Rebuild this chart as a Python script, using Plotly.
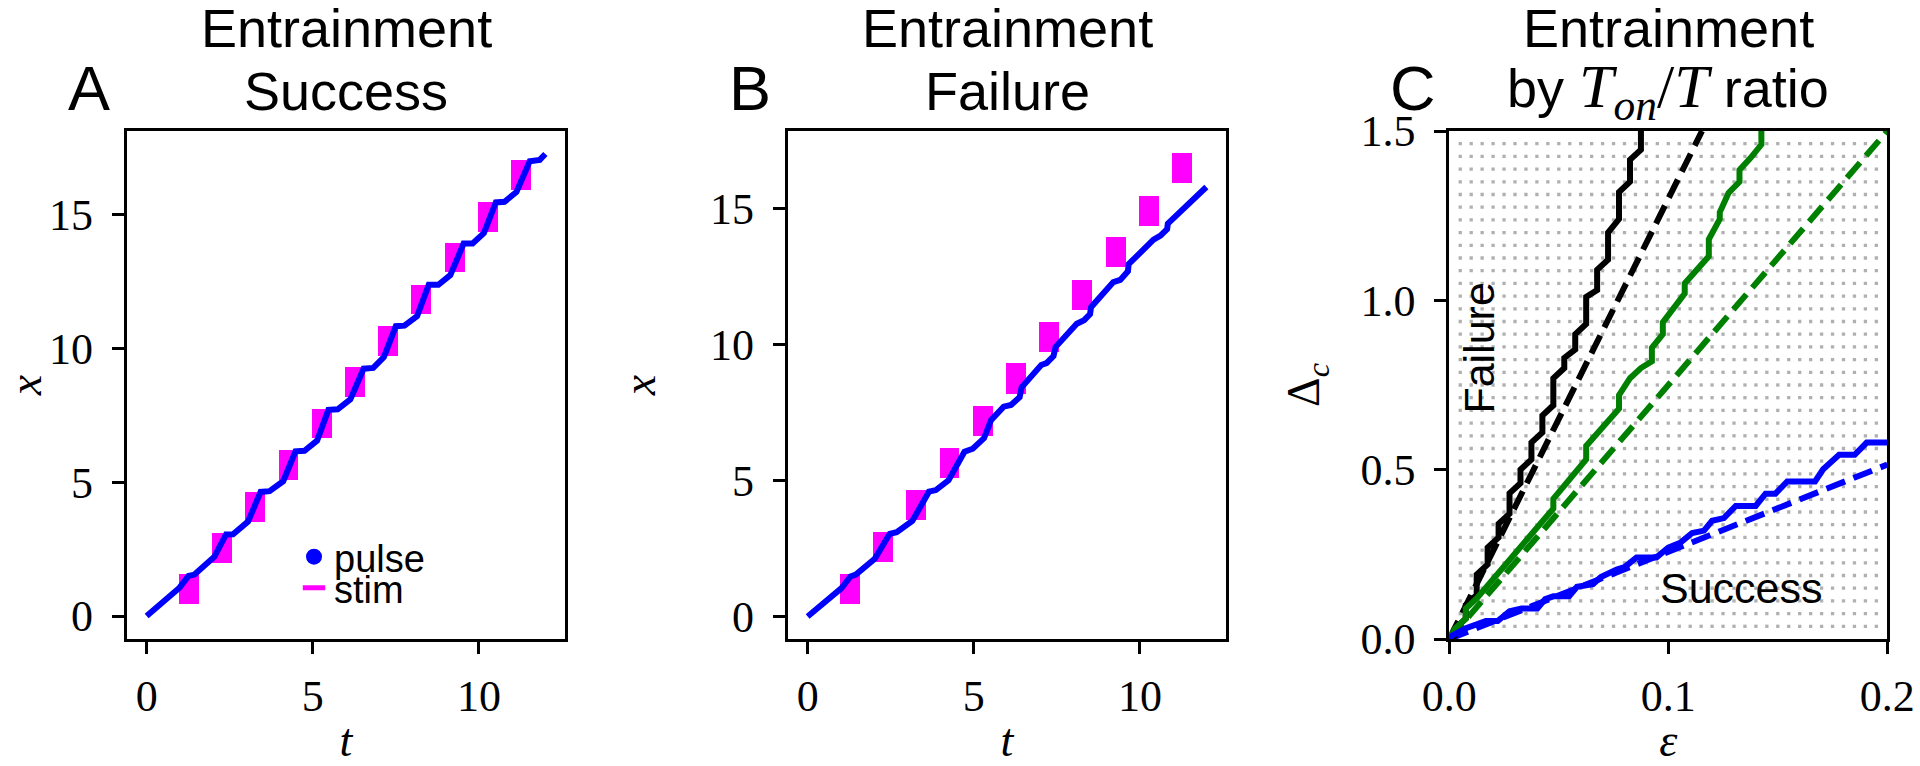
import plotly.graph_objects as go

# ---------------- data ----------------
# Panel A (entrainment success): pulse trajectory x(t)
pulse_a_t = [0, 0.99, 1.26, 1.44, 2.04, 2.39, 2.60, 3.05, 3.43, 3.70, 4.11, 4.48, 4.75, 5.13, 5.47, 5.75,
             6.13, 6.53, 6.82, 7.14, 7.50, 7.76, 8.14, 8.49, 8.78, 9.14, 9.54, 9.81, 10.15, 10.51, 10.77,
             11.13, 11.53, 11.83, 12.0]
pulse_a_x = [0, 1.06, 1.50, 1.55, 2.22, 3.05, 3.06, 3.53, 4.64, 4.67, 5.04, 6.16, 6.18, 6.56, 7.71, 7.73,
             8.10, 9.25, 9.28, 9.68, 10.84, 10.86, 11.22, 12.39, 12.39, 12.75, 13.93, 13.93, 14.32, 15.47, 15.49,
             15.86, 17.01, 17.06, 17.28]

# Panel B (entrainment failure): pulse trajectory x(t)
pulse_b_t = [0, 1.02, 1.29, 1.45, 2.02, 2.47, 2.68, 3.15, 3.65, 3.86, 4.24, 4.72, 4.97, 5.31, 5.52, 5.90,
             6.12, 6.38, 6.44, 7.03, 7.19, 7.40, 7.46, 8.10, 8.32, 8.50, 8.53, 9.20, 9.41, 9.64, 9.66,
             10.41, 10.62, 10.82, 10.84, 11.59, 11.70, 12.0]
pulse_b_x = [0, 1.04, 1.47, 1.54, 2.12, 3.04, 3.10, 3.51, 4.59, 4.65, 5.01, 6.06, 6.17, 6.56, 7.22, 7.72,
             7.78, 8.07, 8.43, 9.25, 9.32, 9.58, 9.91, 10.77, 10.90, 11.12, 11.38, 12.30, 12.38, 12.70, 12.96,
             13.86, 14.01, 14.25, 14.45, 15.37, 15.46, 15.80]

# Stimulus blocks (same in A and B)
stim_t = [1.27, 2.27, 3.27, 4.27, 5.27, 6.27, 7.27, 8.27, 9.27, 10.27, 11.27]
stim_lo = [0.45, 1.99, 3.53, 5.09, 6.64, 8.20, 9.73, 11.28, 12.85, 14.37, 15.95]
stim_hi = [1.56, 3.10, 4.64, 6.20, 7.75, 9.31, 10.84, 12.39, 13.96, 15.48, 17.06]
stim_dt = 0.6

# Panel C: simulated parameter grid
eps_grid = [0.005, 0.010, 0.015, 0.020, 0.025, 0.030, 0.035, 0.040, 0.045, 0.050,
            0.055, 0.060, 0.065, 0.070, 0.075, 0.080, 0.085, 0.090, 0.095, 0.100,
            0.105, 0.110, 0.115, 0.120, 0.125, 0.130, 0.135, 0.140, 0.145, 0.150,
            0.155, 0.160, 0.165, 0.170, 0.175, 0.180, 0.185, 0.190, 0.195]
delta_grid = [0.0375, 0.0750, 0.1125, 0.1500, 0.1875, 0.2250, 0.2625, 0.3000, 0.3375, 0.3750,
              0.4125, 0.4500, 0.4875, 0.5250, 0.5625, 0.6000, 0.6375, 0.6750, 0.7125, 0.7500,
              0.7875, 0.8250, 0.8625, 0.9000, 0.9375, 0.9750, 1.0125, 1.0500, 1.0875, 1.1250,
              1.1625, 1.2000, 1.2375, 1.2750, 1.3125, 1.3500, 1.3875, 1.4250, 1.4625]

# Panel C: simulated boundaries (solid) and predictions (dashed)
black_eps = [0.0, 0.0025, 0.0025, 0.0075, 0.0075, 0.0125, 0.0125, 0.0175, 0.0175, 0.0225, 0.0225, 0.0275,
             0.0275, 0.0325, 0.0325, 0.0375, 0.0375, 0.0425, 0.0425, 0.0475, 0.0475, 0.0525, 0.0525, 0.0575,
             0.0575, 0.0625, 0.0625, 0.0675, 0.0675, 0.0725, 0.0725, 0.0775, 0.0775, 0.0825, 0.0825, 0.0875,
             0.0875]
black_delta = [0.0, 0.01, 0.03, 0.06, 0.10, 0.13, 0.19, 0.22, 0.27, 0.30, 0.34, 0.37,
               0.43, 0.46, 0.50, 0.53, 0.58, 0.61, 0.66, 0.69, 0.77, 0.80, 0.83, 0.855,
               0.90, 0.93, 1.01, 1.03, 1.09, 1.12, 1.20, 1.24, 1.32, 1.35, 1.415, 1.445,
               1.52]
green_eps = [0.0, 0.0025, 0.0075, 0.0075, 0.0125, 0.0475, 0.0475, 0.0575, 0.0625, 0.0625, 0.0775, 0.0775,
             0.0825, 0.0875, 0.0925, 0.0925, 0.0975, 0.0975, 0.1075, 0.1075, 0.1185, 0.1185, 0.1235, 0.1235,
             0.1275, 0.1325, 0.1325, 0.1375, 0.1425, 0.1425]
green_delta = [0.0, 0.03, 0.06, 0.09, 0.12, 0.385, 0.414, 0.49, 0.53, 0.57, 0.68, 0.72,
               0.77, 0.80, 0.82, 0.86, 0.90, 0.935, 1.02, 1.05, 1.13, 1.18, 1.24, 1.26,
               1.317, 1.35, 1.385, 1.42, 1.46, 1.52]
blue_eps = [0.0, 0.0013, 0.0076, 0.0167, 0.0221, 0.0275, 0.033, 0.0402, 0.0438, 0.0475, 0.0547, 0.0583,
            0.0656, 0.0692, 0.0764, 0.080, 0.0855, 0.0946, 0.100, 0.1054, 0.1109, 0.1163, 0.120, 0.1254,
            0.1308, 0.1399, 0.1444, 0.1489, 0.1543, 0.167, 0.1707, 0.178, 0.1851, 0.1906, 0.2]
blue_delta = [0.0, 0.010, 0.032, 0.053, 0.053, 0.082, 0.090, 0.090, 0.118, 0.126, 0.126, 0.154,
              0.162, 0.183, 0.205, 0.212, 0.241, 0.241, 0.270, 0.284, 0.313, 0.320, 0.349, 0.357,
              0.393, 0.393, 0.429, 0.429, 0.465, 0.465, 0.501, 0.544, 0.544, 0.580, 0.580]
black_pred_eps = [0.0, 0.1154]
black_pred_delta = [0.0, 1.5]
green_pred_eps = [0.0, 0.2]
green_pred_delta = [0.0, 1.5]
blue_pred_eps = [0.0, 0.2]
blue_pred_delta = [0.0, 0.515]

# ---------------- styling ----------------
W, H = 1920, 766
SANS = "Liberation Sans"
SERIF = "Liberation Serif"
BLUE = "#0000ff"
MAGENTA = "#ff00ff"
GREEN = "#008000"
LW = 6
DASH = "20px,9px"

fig = go.Figure()

# stimulus blocks A and B
for xa, ya in (("x", "y"), ("x2", "y2")):
    fig.add_trace(go.Bar(x=stim_t, y=[h - l for h, l in zip(stim_hi, stim_lo)], base=stim_lo,
                         width=stim_dt, marker=dict(color=MAGENTA, line=dict(width=0)),
                         xaxis=xa, yaxis=ya, showlegend=False, hoverinfo="skip"))

fig.add_trace(go.Scatter(x=pulse_a_t, y=pulse_a_x, mode="lines", line=dict(color=BLUE, width=LW),
                         xaxis="x", yaxis="y", showlegend=False))
fig.add_trace(go.Scatter(x=pulse_b_t, y=pulse_b_x, mode="lines", line=dict(color=BLUE, width=LW),
                         xaxis="x2", yaxis="y2", showlegend=False))

# legend entries (panel A)
fig.add_trace(go.Scatter(x=[None], y=[None], mode="markers", name="pulse",
                         marker=dict(symbol="circle", size=16, color=BLUE),
                         xaxis="x", yaxis="y", legend="legend"))
fig.add_trace(go.Scatter(x=[None], y=[None], mode="markers", name="stim",
                         marker=dict(symbol="line-ew", size=16, color=MAGENTA,
                                     line=dict(color=MAGENTA, width=8)),
                         xaxis="x", yaxis="y", legend="legend2"))

# panel C grid dots
gx = [e for d in delta_grid for e in eps_grid]
gy = [d for d in delta_grid for e in eps_grid]
fig.add_trace(go.Scatter(x=gx, y=gy, mode="markers",
                         marker=dict(symbol="square", size=3.3, color="#b0b0b0"),
                         xaxis="x3", yaxis="y3", showlegend=False, hoverinfo="skip"))

for ex, dy, col in ((black_pred_eps, black_pred_delta, "black"),
                    (green_pred_eps, green_pred_delta, GREEN),
                    (blue_pred_eps, blue_pred_delta, BLUE)):
    fig.add_trace(go.Scatter(x=ex, y=dy, mode="lines", line=dict(color=col, width=LW, dash=DASH),
                             xaxis="x3", yaxis="y3", showlegend=False))
for ex, dy, col in ((black_eps, black_delta, "black"),
                    (green_eps, green_delta, GREEN),
                    (blue_eps, blue_delta, BLUE)):
    fig.add_trace(go.Scatter(x=ex, y=dy, mode="lines", line=dict(color=col, width=LW),
                             xaxis="x3", yaxis="y3", showlegend=False))

# ---------------- axes ----------------
px_x = lambda p: p / W
px_y = lambda p: 1 - p / H
dom_y = [px_y(639), px_y(131)]
doms_x = [[px_x(126.7), px_x(565.3)], [px_x(787.7), px_x(1226.3)], [px_x(1449.3), px_x(1887.3)]]

tickfont = dict(family=SERIF, size=44, color="black")
titlefont = dict(family=SERIF, size=46, color="black")
common = dict(showline=True, mirror=True, linecolor="black", linewidth=3, ticks="outside",
              ticklen=12, tickwidth=3, tickcolor="black", showgrid=False, zeroline=False,
              tickfont=tickfont, fixedrange=True, automargin=False, ticklabeloverflow="allow")
xcommon = dict(common, ticklabelstandoff=4)
ycommon = dict(common, ticklabelstandoff=10)

fig.update_layout(
    xaxis=dict(domain=doms_x[0], range=[-0.6, 12.6], tickvals=[0, 5, 10], anchor="y",
               title=dict(text="<i>t</i>", font=titlefont, standoff=42), **xcommon),
    yaxis=dict(domain=dom_y, range=[-0.86, 18.14], tickvals=[0, 5, 10, 15], anchor="x",
               title=dict(text="<i>x</i>", font=titlefont, standoff=40), **ycommon),
    xaxis2=dict(domain=doms_x[1], range=[-0.6, 12.6], tickvals=[0, 5, 10], anchor="y2",
                title=dict(text="<i>t</i>", font=titlefont, standoff=42), **xcommon),
    yaxis2=dict(domain=dom_y, range=[-0.83, 17.86], tickvals=[0, 5, 10, 15], anchor="x2",
                title=dict(text="<i>x</i>", font=titlefont, standoff=40), **ycommon),
    xaxis3=dict(domain=doms_x[2], range=[0, 0.2], tickvals=[0, 0.1, 0.2], tickformat=".1f",
                anchor="y3", title=dict(text="<i>ε</i>", font=titlefont, standoff=42), **xcommon),
    yaxis3=dict(domain=dom_y, range=[0, 1.5], tickvals=[0, 0.5, 1.0, 1.5], tickformat=".1f",
                anchor="x3", title=dict(text="Δ<sub><i>c</i></sub>", font=titlefont, standoff=27), **ycommon),
)

# ---------------- legend ----------------
legfont = dict(family=SANS, size=38, color="black")
fig.update_layout(
    legend=dict(x=px_x(294), y=px_y(557), xanchor="left", yanchor="middle", font=legfont,
                bgcolor="rgba(0,0,0,0)", borderwidth=0, itemsizing="trace"),
    legend2=dict(x=px_x(294), y=px_y(588), xanchor="left", yanchor="middle", font=legfont,
                 bgcolor="rgba(0,0,0,0)", borderwidth=0, itemsizing="trace"),
)

# ---------------- titles / labels ----------------
ann = []
TFS = 54
centers = [346, 1007, 1668]
line2 = ["Success", "Failure",
         'by <span style="font-family:Liberation Serif;font-size:62px"><i>T</i><sub><i>on</i></sub>/<i>T</i></span> ratio']
for cx, l2 in zip(centers, line2):
    ann.append(dict(text="Entrainment", x=px_x(cx), y=px_y(28), xref="paper", yref="paper",
                    xanchor="center", yanchor="middle", showarrow=False,
                    font=dict(family=SANS, size=TFS, color="black")))
    ann.append(dict(text=l2, x=px_x(cx), y=px_y(91), xref="paper", yref="paper",
                    xanchor="center", yanchor="middle", showarrow=False,
                    font=dict(family=SANS, size=TFS, color="black")))
for lx, letter in zip([66, 727, 1388], ["A", "B", "C"]):
    ann.append(dict(text=letter, x=px_x(lx), y=px_y(88), xref="paper", yref="paper",
                    xanchor="left", yanchor="middle", showarrow=False,
                    font=dict(family=SANS, size=63, color="black")))
# region labels in panel C
ann.append(dict(text="Failure", x=0.0135, y=0.86, xref="x3", yref="y3", textangle=-90,
                xanchor="center", yanchor="middle", showarrow=False,
                font=dict(family=SANS, size=43, color="black")))
ann.append(dict(text="Success", x=0.1335, y=0.15, xref="x3", yref="y3",
                xanchor="center", yanchor="middle", showarrow=False,
                font=dict(family=SANS, size=43, color="black")))

fig.update_layout(annotations=ann, width=W, height=H, margin=dict(l=0, r=0, t=0, b=0, autoexpand=False),
                  paper_bgcolor="white", plot_bgcolor="white", barmode="overlay",
                  bargap=0, showlegend=True)

fig.write_html("out.html", config={"displayModeBar": False, "staticPlot": True},
               post_script="document.body.style.margin='0px';document.body.style.overflow='hidden';")
